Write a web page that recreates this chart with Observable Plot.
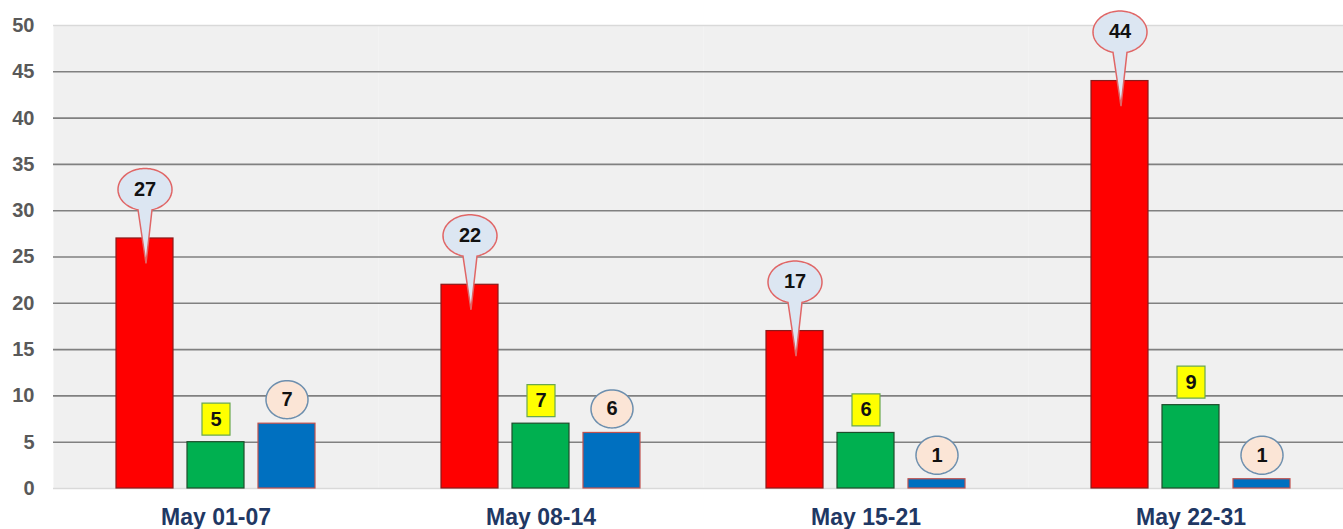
<!DOCTYPE html>
<html><head><meta charset="utf-8">
<script src="https://cdn.jsdelivr.net/npm/d3@7"></script>
<script src="https://cdn.jsdelivr.net/npm/@observablehq/plot@0.6"></script>
<style>html,body{margin:0;padding:0;background:#fff;overflow:hidden}</style>
</head><body><div id="chart"></div>
<script>
const weeks = ["May 01-07", "May 08-14", "May 15-21", "May 22-31"];
const seriesNames = ["Series 1", "Series 2", "Series 3"];
const redValues = [27, 22, 17, 44];
const greenValues = [5, 7, 6, 9];
const blueValues = [7, 6, 1, 1];
const yTicks = [0, 5, 10, 15, 20, 25, 30, 35, 40, 45, 50];
const gridTicks = [5, 10, 15, 20, 25, 30, 35, 40, 45];

const toRows = (vals, s) => weeks.map((w, i) => ({week: w, series: s, value: vals[i]}));
const redRows = toRows(redValues, seriesNames[0]);
const greenRows = toRows(greenValues, seriesNames[1]);
const blueRows = toRows(blueValues, seriesNames[2]);

// callout shapes (drawn relative to bar top)
const bubbleSymbol = {
  draw(ctx) {
    const cy = -49, rx = 27, ry = 21, tip = 25, hw = 7;
    const h = Math.asin(hw / rx);
    const a0 = Math.PI / 2 + h, span = 2 * Math.PI - 2 * h, n = 90;
    for (let k = 0; k <= n; k++) {
      const a = a0 + span * k / n;
      const x = rx * Math.cos(a), y = cy + ry * Math.sin(a);
      if (k === 0) ctx.moveTo(x, y); else ctx.lineTo(x, y);
    }
    ctx.lineTo(1, tip);
    ctx.closePath();
  }
};
const boxSymbol = {
  draw(ctx) {
    ctx.moveTo(-14, -39); ctx.lineTo(14, -39); ctx.lineTo(14, -7); ctx.lineTo(-14, -7); ctx.closePath();
  }
};
const ovalSymbol = {
  draw(ctx) {
    const cy = -24, rx = 21, ry = 19, n = 72;
    for (let k = 0; k <= n; k++) {
      const a = 2 * Math.PI * k / n;
      const x = rx * Math.cos(a), y = cy + ry * Math.sin(a);
      if (k === 0) ctx.moveTo(x, y); else ctx.lineTo(x, y);
    }
    ctx.closePath();
  }
};

const common = {fx: "week", x: "series", y: "value"};
const labelStyle = {fontWeight: "bold", fontSize: 20, fill: "#111"};

const chart = Plot.plot({
  width: 1343,
  height: 529,
  marginLeft: 52,
  marginRight: 0,
  marginTop: 25,
  marginBottom: 41,
  style: {fontFamily: "'Liberation Sans', Arial, sans-serif", background: "#fff"},
  fx: {domain: weeks, range: [52, 1354], padding: 0, label: null},
  x: {domain: seriesNames, paddingInner: 0.2, paddingOuter: 0.86, axis: null},
  y: {domain: [0, 50], label: null},
  marks: [
    Plot.frame({fill: "#f0f0f0", stroke: "none"}),
    Plot.ruleY([0, 50], {stroke: "#d9d9d9", strokeWidth: 1.5}),
    Plot.ruleY(gridTicks, {stroke: "#808080", strokeWidth: 1.6}),
    Plot.axisY({ticks: yTicks, tickSize: 0, tickPadding: 19, fontSize: 20, fontWeight: "bold", color: "#595959", label: null}),
    Plot.axisFx({anchor: "bottom", tickSize: 0, tickPadding: 20, fontSize: 23, fontWeight: "bold", color: "#1f3864", label: null}),
    Plot.barY(redRows, {...common, fill: "#ff0000", stroke: "#8b1a1a", strokeWidth: 1.2}),
    Plot.barY(greenRows, {...common, fill: "#00b050", stroke: "#1e4d2b", strokeWidth: 1.2}),
    Plot.barY(blueRows, {...common, fill: "#0070c0", stroke: "#c0504d", strokeWidth: 1.2}),
    Plot.dot(redRows, {...common, symbol: bubbleSymbol, fill: "#dce6f2", stroke: "#e06666", strokeWidth: 1.5}),
    Plot.text(redRows, {...common, text: d => String(d.value), dy: -49, ...labelStyle}),
    Plot.dot(greenRows, {...common, symbol: boxSymbol, fill: "#ffff00", stroke: "#6aa84f", strokeWidth: 1.2}),
    Plot.text(greenRows, {...common, text: d => String(d.value), dy: -23, ...labelStyle}),
    Plot.dot(blueRows, {...common, symbol: ovalSymbol, fill: "#fbe5d6", stroke: "#6d8fae", strokeWidth: 1.5}),
    Plot.text(blueRows, {...common, text: d => String(d.value), dy: -24, ...labelStyle})
  ]
});
document.getElementById("chart").appendChild(chart);
</script>
</body></html>
